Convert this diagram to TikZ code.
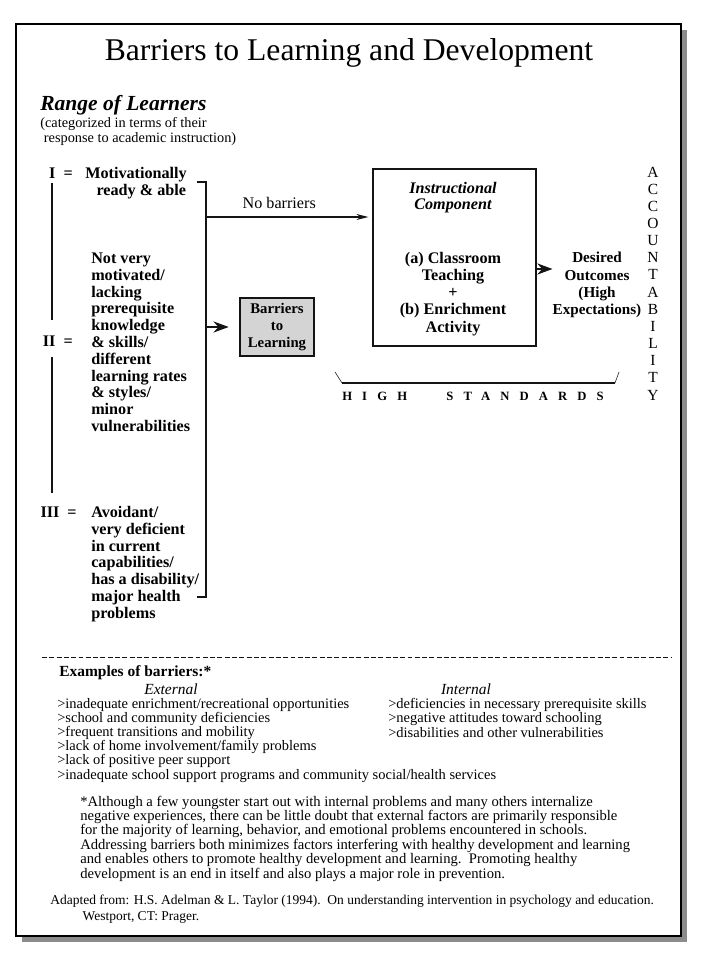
\documentclass[tikz,border=0pt]{standalone}
\usepackage{fontspec}
\setmainfont{Liberation Serif}
\newfontfamily\spacedfont[LetterSpace=80]{Liberation Serif}
\usetikzlibrary{positioning,arrows.meta}
\definecolor{bShadow} {RGB}{140,140,140}
\definecolor{bBarrier}{RGB}{212,212,212}
\definecolor{bLine}   {RGB}{ 20, 20, 20}

\begin{document}
\begin{tikzpicture}

% ---------------------------------------------------------------- styles
% (a node set with align sits on the baseline of its last line)
\tikzset{
  txt/.style    = {inner sep=0pt, font=\fontsize{10.3}{10}\selectfont},
  lvl/.style    = {inner sep=0pt, align=left, anchor=base west,
                   font=\fontsize{11.5}{11.95}\selectfont\bfseries},
  num/.style    = {inner sep=0pt, anchor=base east,
                   font=\fontsize{11.5}{12}\selectfont\bfseries},
  box/.style    = {draw=bLine, line width=0.8pt, inner sep=0pt},
  gbox/.style   = {box, fill=bBarrier, align=center, minimum width=1.85cm,
                   minimum height=1.45cm, font=\fontsize{10.5}{12}\selectfont\bfseries},
  line/.style   = {draw=bLine, line width=0.8pt},
  arr/.style    = {line, -{Stealth[length=3mm,width=1.5mm]}},
  bigarr/.style = {line, -{Stealth[length=3.8mm,width=2.8mm]}},
}

\useasboundingbox (0,0) rectangle (18,-24);

% ================================================================ sheet
\fill[bShadow] (0.55,-0.75) rectangle (17.175,-23.55);
\draw[fill=white, line width=1pt] (0.4,-0.6) rectangle (17.025,-23.4);

\node[anchor=base, inner sep=0pt, font=\fontsize{22.5}{26}\selectfont] (title)
  at (8.725,-1.525) {Barriers to Learning and Development};

% ======================================================== range of learners
\node[anchor=base west, inner sep=0pt,
      font=\fontsize{15.3}{16}\selectfont\bfseries\itshape] (range)
  at (1.0,-2.775) {Range of Learners};
\node[txt, anchor=base west, align=left, font=\fontsize{10.2}{10.7}\selectfont] (rangeSub)
  at (1.0,-3.575) {(categorized in terms of their\\
                 \hspace{0.25em}response to academic instruction)};

\node[num] (nI)   at (1.825,-4.46)  {I \ =};
\node[lvl] (lvI)  at (2.125,-4.88)
  {Motivationally\\ \hspace{0.7em}ready \& able};
\node[num] (nII)  at (1.825,-8.66)  {II \ =};
\node[lvl] (lvII) at (2.275,-10.785)
  {Not very\\ motivated/\\ lacking\\ prerequisite\\ knowledge\\ \& skills/\\
   different\\ learning rates\\ \& styles/\\ minor\\ vulnerabilities};
\node[num] (nIII) at (1.925,-12.935) {III \ =};
\node[lvl] (lvIII) at (2.275,-15.455)
  {Avoidant/\\ very deficient\\ in current\\ capabilities/\\ has a disability/\\
   major health\\ problems};

% the range runs down the left, the bracket gathers it on the right
\draw[line] (1.3,-4.575) -- (1.3,-8.0);
\draw[line] (1.3,-8.925) -- (1.3,-12.325);
\coordinate (brTop) at (5.15,-4.55);
\coordinate (brBot) at (5.15,-14.925);
\coordinate (brNo)  at (5.15,-5.425);
\coordinate (brBar) at (5.15,-8.175);
\draw[line] (4.925,-4.55) -- (brTop) -- (brBot) -- (4.925,-14.925);

% ============================================================ components
\node[gbox] (barr) at (6.925,-8.175) {Barriers\\ to\\ Learning};
\node[box, minimum width=4.075cm, minimum height=4.425cm] (instr) at (11.3625,-6.4375) {};
\node[anchor=base, inner sep=0pt, align=center,
      font=\fontsize{11.5}{11.9}\selectfont\bfseries\itshape] (instrHd)
  at (11.325,-5.25) {Instructional\\ Component};
\node[anchor=base, inner sep=0pt, align=center,
      font=\fontsize{11.5}{12.1}\selectfont\bfseries] (instrBd)
  at (11.325,-8.3) {(a) Classroom\\ Teaching\\ +\\ (b) Enrichment\\ Activity};
\node[anchor=base, inner sep=0pt, align=center,
      font=\fontsize{10.8}{12.4}\selectfont\bfseries] (desired)
  at (14.925,-7.875) {Desired\\ Outcomes\\ (High\hspace{1em}\\ Expectations)};
\node[anchor=base, inner sep=0pt, align=center,
      font=\fontsize{11}{12.2}\selectfont] (acc)
  at (16.325,-10.0) {A\\ C\\ C\\ O\\ U\\ N\\ T\\ A\\ B\\ I\\ L\\ I\\ T\\ Y};

% ------------------------------------------------------------- connectors
\draw[arr, shorten >=0.1cm] (brNo) -- (brNo -| instr.west)
  node[pos=0.44, above=5.5pt, inner sep=0pt, font=\fontsize{11.5}{12}\selectfont] (noBar)
  {No barriers};
\draw[bigarr, shorten >=0.27cm] (brBar) -- (barr.west);
\draw[bigarr] ([yshift=-0.2875cm]instr.east) -- ([yshift=-0.2875cm]instr.east -| desired.west);

% --------------------------------------------------------- high standards
\coordinate (hsL) at (8.55,-9.575);
\coordinate (hsR) at (15.375,-9.575);
\draw[draw=bLine, line width=1.5pt] (hsL) -- (hsR);
\draw[draw=bLine, line width=0.4pt] (8.375,-9.3) -- (hsL);
\draw[draw=bLine, line width=0.4pt] (hsR) -- (15.475,-9.3);
\node[anchor=base west, inner sep=0pt,
      font=\spacedfont\fontsize{9}{10}\selectfont\bfseries] (hs)
  at (8.55,-10.0) {HIGH\hspace{18.5pt} STANDARDS};

% ================================================================ examples
\draw[draw=bLine, line width=0.7pt, dash pattern=on 3.5pt off 1.7pt]
  (1.05,-16.425) -- (16.8,-16.425);

\node[anchor=base west, inner sep=0pt, font=\fontsize{11}{12}\selectfont\bfseries] (exHead)
  at (1.475,-16.9) {Examples of barriers:*};
\node[anchor=base, inner sep=0pt, font=\fontsize{11}{12}\selectfont\itshape] (extHead)
  at (4.275,-17.35) {External};
\node[anchor=base, inner sep=0pt, font=\fontsize{11}{12}\selectfont\itshape] (intHead)
  at (11.65,-17.35) {Internal};
\node[txt, anchor=base west, align=left] (extList) at (1.425,-19.475)
  {>inadequate enrichment/recreational opportunities\\
   >school and community deficiencies\\
   >frequent transitions and mobility\\
   >lack of home involvement/family problems\\
   >lack of positive peer support\\
   >inadequate school support programs and community social/health services};
\node[txt, anchor=base west, align=left] (intList) at (9.7,-18.425)
  {>deficiencies in necessary prerequisite skills\\
   >negative attitudes toward schooling\\
   >disabilities and other vulnerabilities};

\node[txt, anchor=base west, align=left, font=\fontsize{10.4}{10.2}\selectfont] (note)
  at (2.0,-21.95)
  {*Although a few youngster start out with internal problems and many others internalize\\
   negative experiences, there can be little doubt that external factors are primarily responsible\\
   for the majority of learning, behavior, and emotional problems encountered in schools.\\
   Addressing barriers both minimizes factors interfering with healthy development and learning\\
   and enables others to promote healthy development and learning.\ \ Promoting healthy\\
   development is an end in itself and also plays a major role in prevention.};
\node[txt, anchor=base west, align=left, font=\fontsize{9.6}{10.8}\selectfont] (src)
  at (1.25,-23.0)
  {Adapted from: H.S. Adelman \& L. Taylor (1994).\ \ On understanding intervention in psychology and education.\\
   \hspace{23pt}Westport, CT: Prager.};

\end{tikzpicture}
\end{document}
